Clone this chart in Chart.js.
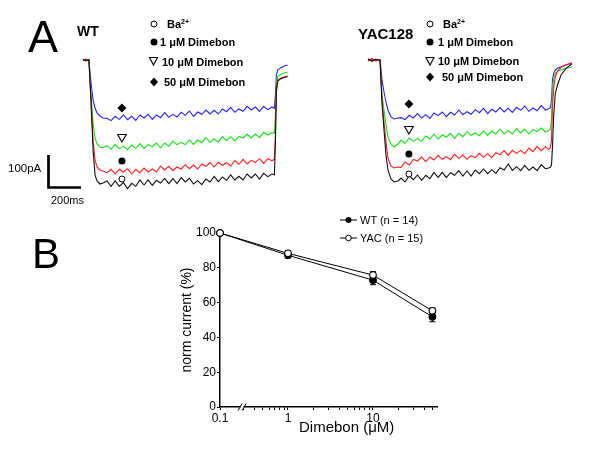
<!DOCTYPE html>
<html>
<head>
<meta charset="utf-8">
<script src="https://cdn.jsdelivr.net/npm/chart.js@4.4.1/dist/chart.umd.min.js"></script>
<style>
  body { margin: 0; background: #fff; }
  #fig { position: relative; width: 600px; height: 455px; overflow: hidden; font-family: 'Liberation Sans', Arial, sans-serif; color: #000; }
  canvas { position: absolute; }
  svg { position: absolute; left: 0; top: 0; }
  .t { position: absolute; line-height: 1; white-space: nowrap; }
  .leg { font-size: 11px; font-weight: bold; }
  .leg sup { font-size: 7px; vertical-align: 4px; line-height: 0; }
</style>
</head>
<body>
<div id="fig">
  <canvas id="cWT" width="300" height="210" style="left:0;top:0"></canvas>
  <canvas id="cYAC" width="300" height="210" style="left:300px;top:0"></canvas>
  <canvas id="cB" width="600" height="255" style="left:0;top:200px"></canvas>

  <!-- panel letters and labels -->
  <div class="t" style="left:28px;top:14px;font-size:45px">A</div>
  <div class="t" style="left:32px;top:233px;font-size:42px">B</div>
  <div class="t" style="left:77px;top:24px;font-size:14px;font-weight:bold">WT</div>
  <div class="t" style="left:358px;top:26px;font-size:15px;font-weight:bold">YAC128</div>

  <!-- panel A legends -->
  <div class="t leg" style="left:167px;top:19px">Ba<sup>2+</sup></div>
  <div class="t leg" style="left:160px;top:37px">1 μM Dimebon</div>
  <div class="t leg" style="left:162px;top:57px">10 μM Dimebon</div>
  <div class="t leg" style="left:164px;top:77px">50 μM Dimebon</div>
  <div class="t leg" style="left:443px;top:19px">Ba<sup>2+</sup></div>
  <div class="t leg" style="left:438px;top:37px">1 μM Dimebon</div>
  <div class="t leg" style="left:438px;top:56px">10 μM Dimebon</div>
  <div class="t leg" style="left:442px;top:72px">50 μM Dimebon</div>

  <!-- scale bar labels -->
  <div class="t" style="left:8px;top:163px;font-size:11.5px">100pA</div>
  <div class="t" style="left:51px;top:195px;font-size:11px">200ms</div>

  <!-- panel B legend + x title -->
  <div class="t" style="left:360px;top:215px;font-size:11px">WT (n = 14)</div>
  <div class="t" style="left:360px;top:233px;font-size:11px">YAC (n = 15)</div>
  <div class="t" style="left:299px;top:419px;font-size:15px">Dimebon (μM)</div>

  <svg width="600" height="455">
    <!-- scale bar -->
    <path d="M48.5 155 V187.5 H81" fill="none" stroke="#000" stroke-width="2.7"/>
    <!-- legend symbols WT -->
    <circle cx="154" cy="24" r="3" fill="#fff" stroke="#000" stroke-width="1"/>
    <circle cx="154" cy="42" r="3.5" fill="#000"/>
    <polygon points="149.5,57.5 157.5,57.5 153.5,65" fill="#fff" stroke="#000" stroke-width="1.1"/>
    <polygon points="154,77.5 158,82 154,86.5 150,82" fill="#000"/>
    <!-- legend symbols YAC -->
    <circle cx="430" cy="24" r="3" fill="#fff" stroke="#000" stroke-width="1"/>
    <circle cx="430" cy="42" r="3.5" fill="#000"/>
    <polygon points="426,57.5 434,57.5 430,65" fill="#fff" stroke="#000" stroke-width="1.1"/>
    <polygon points="430,72.5 434,77 430,81.5 426,77" fill="#000"/>
    <!-- panel B legend symbols -->
    <line x1="340" y1="220" x2="357" y2="220" stroke="#000" stroke-width="1"/>
    <circle cx="348.5" cy="220" r="3" fill="#000"/>
    <line x1="340" y1="238" x2="357" y2="238" stroke="#000" stroke-width="1"/>
    <circle cx="348.5" cy="238" r="2.8" fill="#fff" stroke="#000" stroke-width="1"/>
  </svg>
</div>

<script>
// ---------- Panel A: whole-cell current traces (time in ms, current in pA) ----------
const tWT = [0, 18, 36, 48, 61, 73, 85, 103, 121,
  145, 170, 195, 220, 245, 270, 295, 320, 345, 370, 395, 420, 445, 470, 495, 520, 545, 570, 595, 620,
  645, 670, 695, 720, 745, 770, 795, 820, 845, 870, 895, 920, 945, 970, 995, 1020, 1045, 1070, 1095, 1120, 1145,
  1160, 1166, 1172, 1180, 1200, 1220, 1240];

const wtBa = [2, -3, 1, -120, -270, -345, -363, -372, -369,
  -363, -379, -363, -379, -368, -386, -370, -379, -360, -375, -360, -376, -361, -369, -355, -371, -356, -371, -353, -366,
  -355, -372, -362, -374, -357, -366, -349, -365, -351, -361, -345, -360, -349, -360, -342, -354, -342, -357, -340, -350, -342,
  -344, -250, -95, -63, -56, -52, -50];
const wtDim1 = [-2, 2, -1, -114, -240, -300, -321, -330, -333,
  -338, -328, -342, -328, -336, -326, -342, -328, -338, -324, -336, -327, -336, -318, -330, -319, -332, -321, -327, -314,
  -326, -315, -327, -312, -319, -307, -321, -307, -316, -308, -318, -302, -313, -298, -312, -301, -307, -296, -310, -296, -302,
  -298, -225, -88, -60, -54, -51, -48];
const wtDim10 = [2, -2, 1, -96, -189, -234, -252, -261, -263,
  -257, -268, -254, -266, -259, -269, -255, -265, -251, -266, -254, -260, -249, -264, -249, -259, -244, -254, -247, -254,
  -240, -253, -240, -248, -233, -247, -237, -246, -230, -242, -230, -243, -229, -234, -223, -234, -222, -233, -217, -225, -218,
  -220, -165, -75, -50, -43, -39, -36];
const wtDim50 = [0, 3, -2, -66, -120, -144, -159, -168, -174,
  -175, -182, -169, -178, -165, -179, -169, -181, -165, -174, -163, -178, -165, -173, -158, -172, -163, -171, -157, -166,
  -153, -169, -156, -163, -150, -162, -151, -162, -147, -155, -142, -157, -147, -154, -139, -150, -141, -154, -139, -149, -141,
  -145, -105, -45, -30, -23, -18, -15];

const tYAC = [0, 24, 48, 73, 85, 97, 109, 121, 139, 158, 182,
  200, 225, 250, 275, 300, 325, 350, 375, 400, 425, 450, 475, 500, 525, 550, 575, 600, 625,
  650, 675, 700, 725, 750, 775, 800, 825, 850, 875, 900, 925, 950, 975, 1000, 1025, 1050, 1075,
  1095, 1105, 1112, 1118, 1125, 1135, 1150, 1170, 1200, 1235];

const yacBa = [3, -4, 2, -1, -132, -210, -285, -330, -357, -366, -363,
  -354, -366, -347, -359, -345, -361, -346, -356, -337, -352, -337, -353, -338, -346, -332, -348, -333, -348,
  -330, -341, -327, -341, -329, -340, -323, -330, -312, -331, -320, -332, -316, -331, -321, -332, -314, -326,
  -324, -321, -315, -260, -170, -100, -72, -45, -25, -12];
const yacDim1 = [-3, 4, -2, 1, -120, -186, -246, -294, -318, -324, -321,
  -322, -306, -315, -298, -303, -291, -305, -291, -300, -286, -298, -290, -299, -283, -295, -285, -298, -287,
  -293, -280, -292, -281, -293, -278, -284, -272, -286, -271, -280, -271, -281, -264, -275, -259, -272, -260,
  -268, -263, -240, -140, -85, -50, -32, -22, -14, -8];
const yacDim10 = [4, -3, 2, -2, -105, -150, -195, -231, -252, -261, -252,
  -241, -250, -234, -244, -235, -244, -228, -237, -222, -237, -225, -231, -220, -235, -220, -230, -215, -226,
  -219, -227, -213, -226, -213, -222, -207, -222, -212, -222, -206, -219, -207, -222, -208, -215, -204, -216,
  -212, -207, -180, -90, -55, -40, -33, -29, -25, -21];
const yacDim50 = [-2, 4, -3, 1, -60, -96, -126, -150, -171, -177, -174,
  -173, -179, -166, -174, -161, -174, -164, -175, -159, -167, -156, -170, -157, -165, -150, -164, -155, -163,
  -149, -158, -145, -161, -148, -156, -143, -156, -145, -157, -142, -151, -138, -154, -144, -152, -137, -150,
  -146, -143, -120, -60, -40, -30, -24, -20, -15, -10];

// symbols placed over the traces (◆ 50 µM, ▽ 10 µM, ● 1 µM, ○ Ba2+)
const markTWT = 236, markYWT = [-144, -231, -303, -357];
const markTYAC = 248, markYYAC = [-132, -207, -282, -342];

const TRACE_COLORS = ['#111111', '#ff1c1c', '#12e012', '#2424ff'];

function traceChart(id, t, series, markT, markY, tMax, padL, padR) {
  const lines = series.map((vals, k) => ({
    data: t.map((x, i) => ({ x, y: vals[i] })),
    borderColor: TRACE_COLORS[k], borderWidth: 1.1, pointRadius: 0, tension: 0, clip: false,
  }));
  lines.unshift({
    type: 'scatter', showLine: false, clip: false,
    data: markY.map(y => ({ x: markT, y })),
    pointStyle: ['rectRot', 'triangle', 'circle', 'circle'],
    rotation: [0, 180, 0, 0],
    pointRadius: [4.5, 5, 3.5, 3],
    backgroundColor: ['#000', '#fff', '#000', '#fff'],
    borderColor: '#000', borderWidth: [0, 1.1, 0, 1],
  });
  new Chart(document.getElementById(id), {
    type: 'line',
    data: { datasets: lines },
    options: {
      responsive: false, animation: false,
      layout: { padding: { left: padL, right: padR, top: 50, bottom: 10 } },
      plugins: { legend: { display: false }, tooltip: { enabled: false } },
      scales: {
        x: { type: 'linear', display: false, min: 0, max: tMax },
        y: { display: false, min: -420, max: 30 },
      },
    },
  });
}

traceChart('cWT', tWT, [wtBa, wtDim1, wtDim10, wtDim50], markTWT, markYWT, 1240, 83, 12.4);
traceChart('cYAC', tYAC, [yacBa, yacDim1, yacDim10, yacDim50], markTYAC, markYYAC, 1235, 68, 28.2);

// ---------- Panel B: concentration-response ----------
const conc    = [0.1, 1, 10, 50];
const wtMean  = [100, 87.2, 72.9, 51.8];
const wtErr   = [0, 1.5, 2.6, 2.8];
const yacMean = [100, 88.3, 75.8, 55.3];
const yacErr  = [0, 1.5, 2.0, 1.6];
const xMajor  = [0.1, 1, 10];
const xMinor  = [0.3, 0.4, 0.5, 0.6, 0.7, 0.8, 0.9, 2, 3, 4, 5, 6, 7, 8, 9, 20, 30, 40, 50];

// broken log axis: 0.1 is drawn closer than a full decade from 1
const BREAK_AT = -0.8, BREAK_MARK = -0.54, X_MAX = 1.753;
const xPos = c => (c <= 0.1 ? BREAK_AT : Math.log10(c));

const errorBars = {
  id: 'errorBars',
  beforeDatasetsDraw(chart) {
    const { ctx, scales: { y } } = chart;
    ctx.save();
    ctx.strokeStyle = '#000';
    ctx.lineWidth = 1;
    chart.data.datasets.forEach((ds, di) => {
      chart.getDatasetMeta(di).data.forEach((pt, i) => {
        const e = ds.err[i];
        if (!e) return;
        const y0 = y.getPixelForValue(ds.data[i].y - e), y1 = y.getPixelForValue(ds.data[i].y + e);
        ctx.beginPath();
        ctx.moveTo(pt.x, y0); ctx.lineTo(pt.x, y1);
        ctx.moveTo(pt.x - 3, y0); ctx.lineTo(pt.x + 3, y0);
        ctx.moveTo(pt.x - 3, y1); ctx.lineTo(pt.x + 3, y1);
        ctx.stroke();
      });
    });
    ctx.restore();
  },
};

const breakMarks = {
  id: 'breakMarks',
  afterDraw(chart) {
    const { ctx, scales: { x }, chartArea } = chart;
    const px = x.getPixelForValue(BREAK_MARK), py = chartArea.bottom;
    ctx.save();
    ctx.fillStyle = '#fff';
    ctx.fillRect(px - 1.5, py - 2, 3, 4);
    ctx.strokeStyle = '#000';
    ctx.lineWidth = 1;
    [-2, 2].forEach(d => {
      ctx.beginPath();
      ctx.moveTo(px + d - 2, py + 3.5);
      ctx.lineTo(px + d + 2, py - 3.5);
      ctx.stroke();
    });
    ctx.restore();
  },
};

const axisCommon = {
  grid: { drawOnChartArea: false, drawTicks: true, tickLength: 3, tickColor: '#000' },
  border: { display: true, color: '#000', width: 1.5 },
};

new Chart(document.getElementById('cB'), {
  type: 'line',
  data: {
    datasets: [
      {
        label: 'YAC (n = 15)', order: 0, err: yacErr, clip: false,
        data: conc.map((c, i) => ({ x: xPos(c), y: yacMean[i] })),
        borderColor: '#000', borderWidth: 1, tension: 0,
        pointRadius: 3.3, pointBackgroundColor: '#fff', pointBorderColor: '#000', pointBorderWidth: 1.1,
      },
      {
        label: 'WT (n = 14)', order: 1, err: wtErr, clip: false,
        data: conc.map((c, i) => ({ x: xPos(c), y: wtMean[i] })),
        borderColor: '#000', borderWidth: 1, tension: 0,
        pointRadius: 3.5, pointBackgroundColor: '#000', pointBorderColor: '#000', pointBorderWidth: 1,
      },
    ],
  },
  options: {
    responsive: false, animation: false,
    layout: { padding: { left: 176, right: 163, top: 33, bottom: 8 } },
    plugins: { legend: { display: false }, tooltip: { enabled: false } },
    scales: {
      x: {
        ...axisCommon, type: 'linear', min: BREAK_AT, max: X_MAX,
        afterBuildTicks: s => { s.ticks = [...xMajor, ...xMinor].map(c => ({ value: xPos(c) })); },
        afterFit: s => { s.height = 40; },
        ticks: {
          autoSkip: false, maxRotation: 0, padding: 1, color: '#000',
          font: { family: "'Liberation Sans', Arial, sans-serif", size: 12 },
          callback: v => { const m = xMajor.find(c => Math.abs(xPos(c) - v) < 1e-6); return m === undefined ? '' : String(m); },
        },
      },
      y: {
        ...axisCommon, min: 0, max: 100,
        afterFit: s => { s.width = 44; },
        ticks: { stepSize: 20, padding: 1, color: '#000', font: { family: "'Liberation Sans', Arial, sans-serif", size: 12 } },
        title: {
          display: true, text: 'norm current (%)', color: '#000', padding: { top: 3, bottom: 0 },
          font: { family: "'Liberation Sans', Arial, sans-serif", size: 14 },
        },
      },
    },
  },
  plugins: [errorBars, breakMarks],
});
</script>
</body>
</html>
